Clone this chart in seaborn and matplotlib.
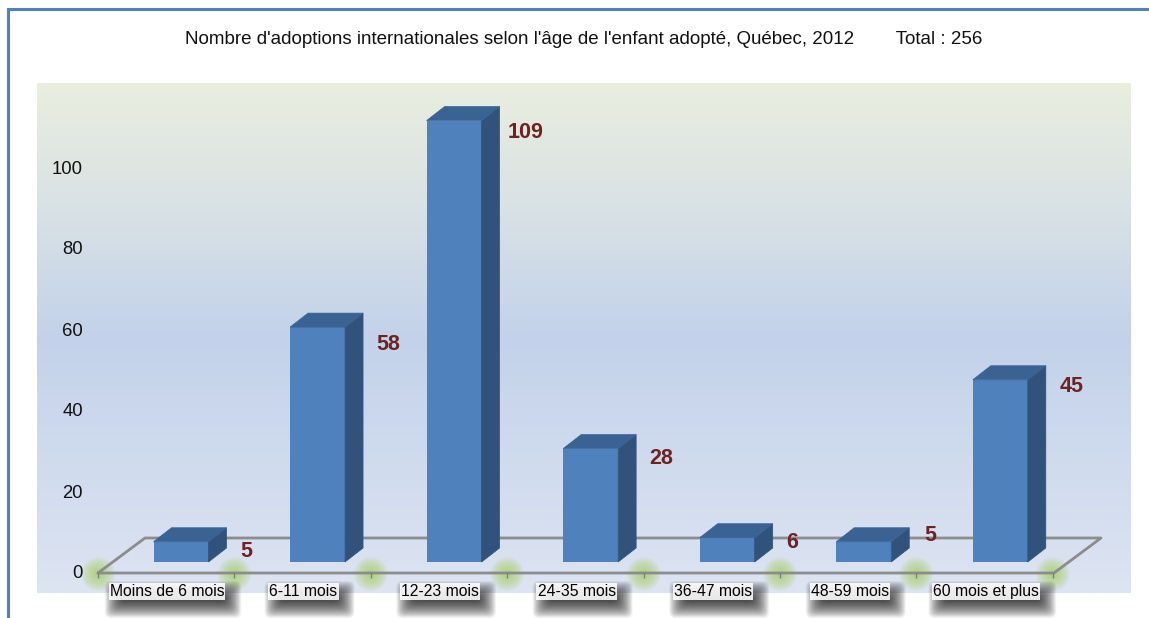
import numpy as np
import seaborn as sns
import matplotlib
matplotlib.use('Agg')
import matplotlib.pyplot as plt
from matplotlib.colors import LinearSegmentedColormap
from matplotlib.patches import Circle, FancyBboxPatch, Polygon
from matplotlib.transforms import ScaledTranslation

# data
categories = ['Moins de 6 mois', '6-11 mois', '12-23 mois', '24-35 mois',
              '36-47 mois', '48-59 mois', '60 mois et plus']
adoptions = [5, 58, 109, 28, 6, 5, 45]
y_ticks = [0, 20, 40, 60, 80, 100]
title = "Nombre d'adoptions internationales selon l'âge de l'enfant adopté, Québec, 2012        Total : 256"

# nudges of the value labels in pixels (x from bar centre, y from bar top)
label_dx = [65, 71, 71, 71, 65, 67, 71]
label_dy = [10, 17, 12, 10, 5, -6, 7]

W, H = 1149, 618
BLUE, SIDE, TOP = '#4f81bd', '#31527a', '#3a6293'
DEPTH_X, DEPTH_Y = 18, 14
PX_CAT, PX_VAL = 136.55, 4.05
X0, Y0 = 181, 562

sns.set_style('white')
plt.rcParams['font.family'] = ['Liberation Sans', 'DejaVu Sans']

fig = plt.figure(figsize=(W / 100, H / 100), dpi=100)
fig.patch.set_facecolor('white')

# background layer in pixel coordinates
bg = fig.add_axes([0, 0, 1, 1], zorder=0)
bg.axis('off')

grad = LinearSegmentedColormap.from_list('bg', [(0, '#e9eede'), (0.2, '#dce4e4'),
                                                (0.5, '#c3d2ea'), (1, '#dde4f2')])
bg.imshow(np.linspace(0, 1, 256)[:, None], cmap=grad, aspect='auto',
          extent=(37, 1131, 593, 83), zorder=0)
bg.set_xlim(0, W)
bg.set_ylim(H, 0)

# frame
bg.plot([7.5, 7.5, W], [H, 9, 9], color='#4f81bd', lw=2.2, solid_joinstyle='miter', zorder=1)

# floor
floor_x = [98 + 136.4 * i for i in range(8)]
for fx in floor_x:
    for r in np.linspace(17, 3, 15):
        bg.add_patch(Circle((fx, 574), r, color='#a6d05a', alpha=0.065, lw=0, zorder=2))
bg.plot([98, 145, 1101, 1054, 98], [573, 538, 538, 573, 573], color='#8c8c8c', lw=2, zorder=3)
bg.plot(floor_x, [575] * 8, ls='', marker='|', ms=5, color='#808080', zorder=3)

# bars
left, right = 90 / W, 1.0
ax = fig.add_axes([left, 0, right - left, 1], zorder=1)
ax.patch.set_alpha(0)
sns.barplot(x=categories, y=adoptions, color=BLUE, width=55 / PX_CAT, saturation=1,
            linewidth=0, ax=ax)
ax.set_xlim((90 - X0) / PX_CAT, (W - X0) / PX_CAT)
ax.set_ylim((Y0 - H) / PX_VAL, Y0 / PX_VAL)
sns.despine(ax=ax, left=True, bottom=True)
ax.grid(False)

dx, dy = DEPTH_X / PX_CAT, DEPTH_Y / PX_VAL
for bar in list(ax.patches):
    x0, x1 = bar.get_x(), bar.get_x() + bar.get_width()
    h = bar.get_height()
    ax.add_patch(Polygon([(x1, 0), (x1 + dx, dy), (x1 + dx, h + dy), (x1, h)],
                         fc=SIDE, ec=SIDE, lw=0.5))
    ax.add_patch(Polygon([(x0, h), (x0 + dx, h + dy), (x1 + dx, h + dy), (x1, h)],
                         fc=TOP, ec=TOP, lw=0.5))

# value labels
for i, v in enumerate(adoptions):
    ax.annotate(str(v), (i, v), xytext=(label_dx[i], -label_dy[i]), textcoords='offset pixels',
                ha='center', va='center', fontsize=15.5, fontweight='bold', color='#6e2323')

# y axis, tick labels sit on the front edge of the floor
ax.set_xticks([])
ax.set_yticks(y_ticks)
ax.tick_params(axis='y', length=0, pad=5, labelsize=13.3, labelcolor='#111111')
shift = ScaledTranslation(0, -10 / 100, fig.dpi_scale_trans)
for lab in ax.get_yticklabels():
    lab.set_transform(lab.get_transform() + shift)

# category labels with their drop shadow
labels = []
for i, cat in enumerate(categories):
    t = ax.annotate(cat, (i, 0), xytext=(-14, -34), textcoords='offset pixels',
                    ha='center', va='baseline', fontsize=11.3, color='black',
                    bbox=dict(fc='white', ec='none', pad=0.8, alpha=0.88), zorder=5)
    labels.append(t)

fig.canvas.draw()
for t in labels:
    bb = t.get_window_extent()
    x0, x1 = bb.x0, bb.x1
    y0, y1 = H - bb.y1, H - bb.y0
    for grow in np.linspace(11, -6, 30):
        bg.add_patch(FancyBboxPatch((x0 + 6 - grow, y0 + 8 - grow),
                                    x1 - x0 + 2 * grow, y1 - y0 + 2 * grow,
                                    boxstyle='round,pad=0,rounding_size=6',
                                    fc='black', ec='none', alpha=0.035, zorder=4))

fig.text(584 / W, 1 - 39 / H, title, ha='center', va='center', fontsize=13.5, color='#111111')

fig.savefig('out.png', dpi=100)
